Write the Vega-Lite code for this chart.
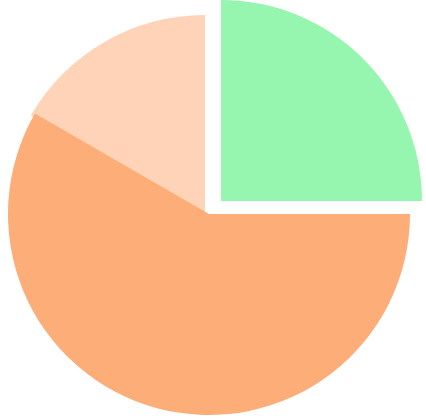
{
  "$schema": "https://vega.github.io/schema/vega-lite/v6.json",
  "width": 426,
  "height": 418,
  "autosize": {"type": "fit", "contains": "padding"},
  "padding": 0,
  "background": "white",
  "view": {"stroke": null},
  "data": {
    "values": [
      {"slice": "A", "value": 30},
      {"slice": "B", "value": 70},
      {"slice": "C", "value": 20}
    ]
  },
  "transform": [
    {"stack": "value", "groupby": [], "sort": [{"field": "slice"}], "as": ["start", "end"]}
  ],
  "encoding": {
    "theta": {"field": "start", "type": "quantitative", "scale": {"domain": [0, 120]}},
    "theta2": {"field": "end"},
    "color": {
      "field": "slice",
      "type": "nominal",
      "scale": {"domain": ["A", "B", "C"], "range": ["#96f5ae", "#fdae78", "#fed3b7"]},
      "legend": null
    }
  },
  "layer": [
    {
      "transform": [{"filter": "datum.slice == 'C'"}],
      "mark": {"type": "arc", "outerRadius": 201, "xOffset": -8, "yOffset": 7}
    },
    {
      "transform": [{"filter": "datum.slice == 'B'"}],
      "mark": {"type": "arc", "outerRadius": 201, "xOffset": -4, "yOffset": 5}
    },
    {
      "transform": [{"filter": "datum.slice == 'A'"}],
      "mark": {"type": "arc", "outerRadius": 201, "xOffset": 8, "yOffset": -8}
    }
  ]
}
